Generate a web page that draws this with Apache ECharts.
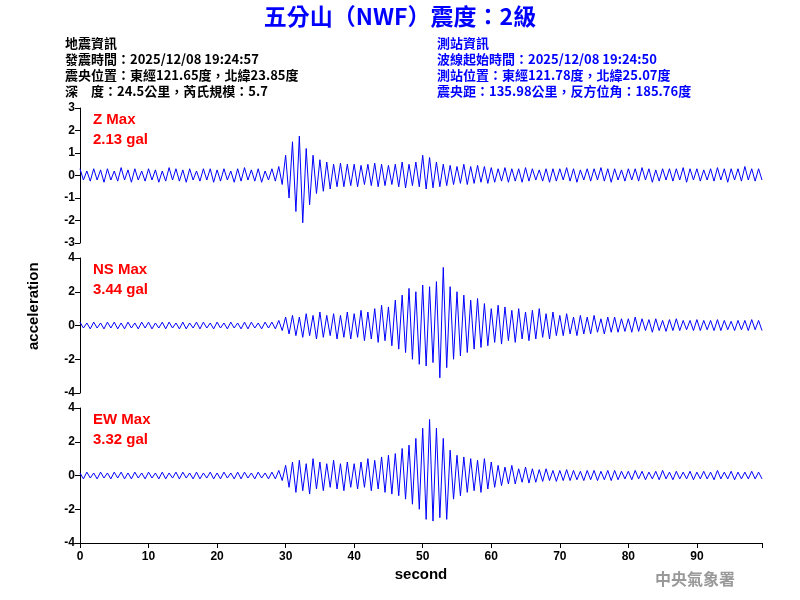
<!DOCTYPE html>
<html><head><meta charset="utf-8">
<script src="https://cdn.jsdelivr.net/npm/echarts@6/dist/echarts.min.js"></script>
<style>body{margin:0;background:#fff}#c{width:800px;height:600px}</style>
</head><body><div id="c"></div>
<script>
// peak values read per second: positive peak then negative peak
var zUp = [0.3,0.2,0.3,0.25,0.3,0.2,0.35,0.25,0.3,0.2, 0.3,0.25,0.2,0.35,0.3,0.25,0.3,0.2,0.3,0.3,
  0.25,0.3,0.2,0.3,0.35,0.25,0.3,0.2,0.3,0.4, 0.9,1.5,1.75,1.2,0.9,0.7,0.6,0.5,0.55,0.5,
  0.5,0.45,0.5,0.55,0.5,0.45,0.5,0.6,0.5,0.6, 0.9,0.8,0.6,0.5,0.45,0.4,0.5,0.4,0.45,0.4,
  0.35,0.3,0.35,0.3,0.3,0.35,0.3,0.25,0.3,0.3, 0.3,0.35,0.3,0.25,0.3,0.3,0.35,0.3,0.3,0.25,
  0.3,0.3,0.35,0.3,0.25,0.3,0.3,0.3,0.35,0.3, 0.3,0.25,0.3,0.35,0.3,0.3,0.3,0.4,0.3,0.3];
var zDn = [-0.2,-0.25,-0.2,-0.3,-0.2,-0.25,-0.2,-0.3,-0.2,-0.25, -0.2,-0.3,-0.25,-0.2,-0.25,-0.3,-0.2,-0.25,-0.2,-0.3,
  -0.25,-0.2,-0.3,-0.25,-0.2,-0.25,-0.3,-0.2,-0.25,-0.4, -1.0,-1.6,-2.1,-1.3,-0.8,-0.7,-0.6,-0.5,-0.5,-0.45,
  -0.5,-0.4,-0.45,-0.5,-0.45,-0.4,-0.5,-0.55,-0.45,-0.5, -0.6,-0.55,-0.5,-0.45,-0.4,-0.35,-0.4,-0.35,-0.3,-0.35,
  -0.3,-0.25,-0.3,-0.25,-0.3,-0.25,-0.2,-0.25,-0.3,-0.25, -0.2,-0.25,-0.3,-0.2,-0.25,-0.2,-0.25,-0.3,-0.2,-0.25,
  -0.2,-0.25,-0.2,-0.3,-0.25,-0.2,-0.25,-0.2,-0.3,-0.2, -0.25,-0.2,-0.25,-0.2,-0.3,-0.2,-0.25,-0.2,-0.25,-0.2];
var nsUp = [0.2,0.15,0.2,0.15,0.2,0.2,0.15,0.2,0.15,0.2, 0.2,0.15,0.2,0.2,0.15,0.2,0.15,0.2,0.2,0.15,
  0.2,0.15,0.2,0.15,0.2,0.2,0.15,0.2,0.2,0.3, 0.5,0.6,0.5,0.7,0.6,0.8,0.6,0.7,0.6,0.8,
  0.7,0.9,0.8,1.0,1.2,1.1,1.5,1.8,2.2,2.0, 2.4,2.3,2.6,3.44,2.3,2.0,1.8,1.5,1.6,1.3,
  1.0,1.2,1.1,0.9,1.0,0.8,0.9,1.0,0.7,0.8, 0.6,0.7,0.5,0.6,0.5,0.6,0.4,0.5,0.5,0.4,
  0.4,0.5,0.4,0.35,0.4,0.3,0.35,0.4,0.3,0.3, 0.35,0.3,0.3,0.35,0.3,0.25,0.3,0.3,0.35,0.3];
var nsDn = [-0.15,-0.2,-0.15,-0.2,-0.15,-0.2,-0.2,-0.15,-0.2,-0.15, -0.2,-0.15,-0.2,-0.15,-0.2,-0.2,-0.15,-0.2,-0.15,-0.2,
  -0.15,-0.2,-0.15,-0.2,-0.2,-0.15,-0.2,-0.15,-0.2,-0.3, -0.5,-0.6,-0.7,-0.6,-0.8,-0.7,-0.6,-0.8,-0.7,-0.8,
  -0.7,-0.9,-0.8,-1.0,-0.9,-1.2,-1.4,-1.6,-2.0,-2.3, -2.4,-2.2,-3.1,-2.5,-2.0,-1.8,-1.6,-1.4,-1.3,-1.2,
  -1.0,-1.1,-0.9,-1.0,-0.8,-0.9,-0.8,-0.7,-0.8,-0.6, -0.6,-0.5,-0.6,-0.5,-0.5,-0.4,-0.5,-0.4,-0.4,-0.35,
  -0.4,-0.35,-0.3,-0.4,-0.3,-0.35,-0.3,-0.3,-0.25,-0.3, -0.3,-0.25,-0.3,-0.3,-0.25,-0.3,-0.25,-0.3,-0.25,-0.3];
var ewUp = [0.15,0.2,0.15,0.2,0.15,0.2,0.2,0.15,0.2,0.15, 0.2,0.15,0.2,0.15,0.2,0.2,0.15,0.2,0.15,0.2,
  0.15,0.2,0.15,0.2,0.2,0.15,0.2,0.15,0.2,0.3, 0.6,0.8,0.9,0.7,1.0,0.8,0.7,0.9,0.7,0.8,
  0.7,0.8,1.0,0.9,1.1,1.2,1.3,1.6,1.8,2.2, 2.8,3.32,2.8,2.2,1.5,1.2,1.1,1.0,0.9,1.0,
  0.8,0.6,0.5,0.6,0.4,0.5,0.4,0.35,0.4,0.3, 0.3,0.35,0.3,0.25,0.3,0.3,0.25,0.3,0.3,0.25,
  0.25,0.3,0.25,0.2,0.25,0.3,0.2,0.25,0.2,0.25, 0.2,0.25,0.2,0.3,0.2,0.25,0.2,0.2,0.25,0.2];
var ewDn = [-0.2,-0.15,-0.2,-0.15,-0.2,-0.15,-0.2,-0.2,-0.15,-0.2, -0.15,-0.2,-0.2,-0.15,-0.2,-0.15,-0.2,-0.2,-0.15,-0.2,
  -0.2,-0.15,-0.2,-0.2,-0.15,-0.2,-0.15,-0.2,-0.2,-0.3, -0.7,-1.0,-0.9,-1.1,-0.8,-0.9,-0.7,-0.8,-0.9,-0.7,
  -0.8,-0.7,-0.9,-0.8,-1.0,-1.1,-1.2,-1.4,-1.7,-2.0, -2.6,-2.7,-2.5,-2.6,-1.4,-1.2,-1.0,-0.9,-1.0,-0.8,
  -0.7,-0.6,-0.5,-0.5,-0.4,-0.45,-0.4,-0.35,-0.3,-0.35, -0.3,-0.3,-0.25,-0.3,-0.25,-0.3,-0.25,-0.3,-0.25,-0.2,
  -0.25,-0.2,-0.25,-0.2,-0.25,-0.2,-0.25,-0.2,-0.2,-0.25, -0.2,-0.2,-0.25,-0.2,-0.2,-0.25,-0.2,-0.2,-0.2,-0.2];
var traceNames = ['Z Max\n2.13 gal', 'NS Max\n3.44 gal', 'EW Max\n3.32 gal'];
var xTicks = [0,10,20,30,40,50,60,70,80,90];

function zig(up, dn) {
  var out = [];
  for (var i = 0; i < up.length; i++) {
    out.push([i, up[i]]);
    out.push([i + 0.5, dn[i]]);
  }
  return out;
}

var chart = echarts.init(document.getElementById('c'));
var font = 'Arial, "Liberation Sans", sans-serif';
var tops = [108, 258, 408];
var ranges = [[-3, 3, 1], [-4, 4, 2], [-4, 4, 2]];
var grids = [], xAxes = [], yAxes = [], series = [];
var traces = [zig(zUp, zDn), zig(nsUp, nsDn), zig(ewUp, ewDn)];
for (var k = 0; k < 3; k++) {
  grids.push({left: 80, width: 682, top: tops[k], height: 135});
  xAxes.push({
    type: 'value', gridIndex: k, min: 0, max: 99.5, interval: 10,
    show: k === 2,
    axisLine: {onZero: false, lineStyle: {color: '#000'}},
    axisTick: {lineStyle: {color: '#000'}},
    axisLabel: {color: '#000', fontFamily: font, fontSize: 12, fontWeight: 'bold',
      formatter: function (v) { return xTicks.indexOf(v) >= 0 ? v : ''; }},
    splitLine: {show: false},
    name: k === 2 ? 'second' : '', nameLocation: 'middle', nameGap: 24,
    nameTextStyle: {color: '#000', fontFamily: font, fontSize: 15, fontWeight: 'bold'}
  });
  yAxes.push({
    type: 'value', gridIndex: k, min: ranges[k][0], max: ranges[k][1], interval: ranges[k][2],
    axisLine: {show: true, lineStyle: {color: '#000'}},
    axisTick: {show: true, lineStyle: {color: '#000'}},
    axisLabel: {color: '#000', fontFamily: font, fontSize: 12, fontWeight: 'bold', margin: 5},
    splitLine: {show: false}
  });
  series.push({
    type: 'line', xAxisIndex: k, yAxisIndex: k, data: traces[k],
    showSymbol: false, lineStyle: {color: '#0000ff', width: 1}, animation: false
  });
}

var hdr = {fontFamily: '"Noto Sans CJK TC", sans-serif', fontSize: 13, fontWeight: 'bold', lineHeight: 16};
chart.setOption({
  animation: false,
  grid: grids, xAxis: xAxes, yAxis: yAxes, series: series,
  graphic: [
    {type: 'text', left: 'center', top: 5, style: {text: '五分山（NWF）震度：2級', fill: '#0000ff',
      font: 'bold 23px "Noto Sans CJK TC", sans-serif'}},
    {type: 'text', left: 65, top: 35, style: Object.assign({text: '地震資訊\n發震時間：2025/12/08 19:24:57\n震央位置：東經121.65度，北緯23.85度\n深　度：24.5公里，芮氏規模：5.7', fill: '#000'}, hdr)},
    {type: 'text', left: 437, top: 35, style: Object.assign({text: '測站資訊\n波線起始時間：2025/12/08 19:24:50\n測站位置：東經121.78度，北緯25.07度\n震央距：135.98公里，反方位角：185.76度', fill: '#0000ff'}, hdr)},
    {type: 'text', left: 93, top: 110, style: {text: traceNames[0], fill: '#ff0000', font: 'bold 15px Arial', lineHeight: 20}},
    {type: 'text', left: 93, top: 260, style: {text: traceNames[1], fill: '#ff0000', font: 'bold 15px Arial', lineHeight: 20}},
    {type: 'text', left: 93, top: 410, style: {text: traceNames[2], fill: '#ff0000', font: 'bold 15px Arial', lineHeight: 20}},
    {type: 'text', x: 26, y: 350, rotation: Math.PI / 2, style: {text: 'acceleration', fill: '#000', font: 'bold 15px Arial'}},
    {type: 'text', left: 655, top: 571, style: {text: '中央氣象署', fill: '#999', font: 'bold 16px "Noto Sans CJK TC", serif'}}
  ]
});
</script></body></html>
